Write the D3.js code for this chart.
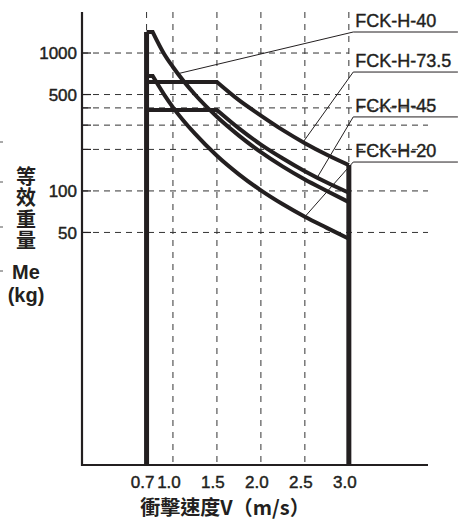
<!DOCTYPE html>
<html><head><meta charset="utf-8">
<script src="https://cdn.jsdelivr.net/npm/d3@7"></script>
<style>
html,body{margin:0;padding:0;background:#fff;}
svg{display:block;}
</style></head>
<body>
<script>
// ---- data ----
const xTicks = [0.7, 1.0, 1.5, 2.0, 2.5, 3.0];
const xTickLabels = ["0.7", "1.0", "1.5", "2.0", "2.5", "3.0"];
const yGrid = [1000, 500, 400, 300, 200, 100, 50];
const yGridShort = [1000, 500];
const yTickValues = [1000, 500, 100, 50];
const yTickLabels = ["1000", "500", "100", "50"];

const h40Speed  = [0.7, 0.77, 0.9, 1.0, 1.25, 1.5, 1.75, 2.0, 2.25, 2.5, 2.75, 3.0];
const h40Mass   = [1420, 1420, 985, 792, 500, 345, 252, 191, 150, 121, 100, 83];
const h735Speed = [0.7, 1.5, 1.75, 2.0, 2.25, 2.5, 2.75, 3.0];
const h735Mass  = [616, 616, 455, 352, 276, 222, 183, 154];
const h45Speed  = [0.7, 1.5, 1.75, 2.0, 2.25, 2.5, 2.75, 3.0];
const h45Mass   = [386, 386, 284, 217, 172, 139, 115, 97];
const h20Speed  = [0.7, 0.77, 0.9, 1.0, 1.25, 1.5, 1.75, 2.0, 2.25, 2.5, 2.75, 3.0];
const h20Mass   = [681, 681, 500, 404, 260, 180, 132, 101, 80, 65, 54, 45];

const labelNames  = ["FCK-H-40", "FCK-H-73.5", "FCK-H-45", "FCK-H-20"];
const labelAttach = [1.06, 2.48, 2.64, 2.5];   // speed where leader touches curve
const labelLevel  = [1420, 728, 344, 162];     // value of horizontal leader

const xTitle = "衝擊速度V（m/s）";
const yTitle = "等效重量";
const yUnit = ["Me", "(kg)"];

// ---- layout ----
const W = 467, H = 521;
const ink = "#231f20";
const svg = d3.select("body").append("svg").attr("width", W).attr("height", H);

const x = d3.scaleLinear().domain([0, 3.9]).range([85, 428]);
const y = d3.scaleLog().domain([1.03, 2000]).range([465, 11.5]);
const axisX0 = 82, yTop = 12, yBot = 465;

// horizontal dashed gridlines
svg.append("g").selectAll("line").data(yGrid).join("line")
  .attr("x1", axisX0).attr("x2", d => yGridShort.includes(d) ? x(3.0) : x(3.9))
  .attr("y1", d => y(d)).attr("y2", d => y(d))
  .attr("stroke", "#333").attr("stroke-width", 1).attr("stroke-dasharray", "6,5");

// vertical dashed gridlines
svg.append("g").selectAll("line").data(xTicks).join("line")
  .attr("x1", d => x(d)).attr("x2", d => x(d))
  .attr("y1", yTop).attr("y2", yBot)
  .attr("stroke", "#333").attr("stroke-width", 1).attr("stroke-dasharray", "6,6");

// axes lines
svg.append("line").attr("x1", axisX0).attr("x2", axisX0).attr("y1", yTop).attr("y2", yBot + 1)
  .attr("stroke", ink).attr("stroke-width", 2.2);
svg.append("line").attr("x1", axisX0 - 1).attr("x2", x(3.9)).attr("y1", yBot).attr("y2", yBot)
  .attr("stroke", ink).attr("stroke-width", 2.2);

// y ticks (inward) and labels
svg.append("g").selectAll("line").data(yGrid).join("line")
  .attr("x1", axisX0).attr("x2", axisX0 + 9)
  .attr("y1", d => y(d)).attr("y2", d => y(d))
  .attr("stroke", ink).attr("stroke-width", 1.2);
const narrowFont = "'Liberation Sans Narrow','Liberation Sans',Arial,sans-serif";
svg.append("g").selectAll("text").data(yTickValues).join("text")
  .attr("x", 77).attr("y", d => y(d)).attr("dy", "0.36em")
  .attr("text-anchor", "end")
  .attr("font-family", narrowFont)
  .attr("font-size", 17).attr("fill", ink).attr("stroke", ink).attr("stroke-width", 0.45)
  .text((d, i) => yTickLabels[i]);

// x tick labels
svg.append("g").selectAll("text").data(xTicks).join("text")
  .attr("x", d => x(d) - 4).attr("y", 488)
  .attr("text-anchor", "middle")
  .attr("font-family", narrowFont)
  .attr("font-size", 17).attr("fill", ink).attr("stroke", ink).attr("stroke-width", 0.45)
  .text((d, i) => xTickLabels[i]);

// thick boundary verticals
svg.append("line").attr("x1", x(0.7)).attr("x2", x(0.7))
  .attr("y1", y(h40Mass[0])).attr("y2", yBot)
  .attr("stroke", ink).attr("stroke-width", 5);
svg.append("line").attr("x1", x(3.0)).attr("x2", x(3.0))
  .attr("y1", y(h735Mass[h735Mass.length - 1])).attr("y2", yBot)
  .attr("stroke", ink).attr("stroke-width", 5);

// curves: flat portion linear, then monotone decline
const lineGen = d3.line().x(d => x(d[0])).y(d => y(d[1])).curve(d3.curveMonotoneX);
function seriesPath(sp, ms) {
  const pts = sp.map((s, i) => [s, ms[i]]);
  let k = 0;
  while (k + 1 < pts.length && pts[k + 1][1] === pts[0][1]) k++;
  const decl = pts.slice(k);
  return `M${x(pts[0][0])},${y(pts[0][1])}L` + lineGen(decl).slice(1);
}
const allSeries = [[h40Speed, h40Mass], [h735Speed, h735Mass], [h45Speed, h45Mass], [h20Speed, h20Mass]];
svg.append("g").selectAll("path").data(allSeries).join("path")
  .attr("d", d => seriesPath(d[0], d[1]))
  .attr("fill", "none").attr("stroke", ink).attr("stroke-width", 4)
  .attr("stroke-linejoin", "miter");

// leaders and labels
function interp(sp, ms, s) {
  for (let i = 0; i < sp.length - 1; i++) {
    if (s >= sp[i] && s <= sp[i + 1]) {
      const t = (s - sp[i]) / (sp[i + 1] - sp[i]);
      return Math.exp(Math.log(ms[i]) + t * (Math.log(ms[i + 1]) - Math.log(ms[i])));
    }
  }
  return ms[ms.length - 1];
}
const lg = svg.append("g");
labelNames.forEach((name, i) => {
  const [sp, ms] = allSeries[i];
  const s0 = labelAttach[i];
  const v0 = interp(sp, ms, s0);
  const xa = x(s0), ya = y(v0);
  const xb = x(3.05), yb = y(labelLevel[i]);
  lg.append("path")
    .attr("d", `M${xa},${ya}L${xb},${yb}L${x(4.24)},${yb}`)
    .attr("fill", "none").attr("stroke", ink).attr("stroke-width", 1);
  lg.append("text").attr("x", x(3.05) + 2).attr("y", yb - 5)
    .attr("font-family", "'Liberation Sans',Arial,sans-serif")
    .attr("font-size", 18).attr("fill", ink).attr("stroke", ink).attr("stroke-width", 0.4)
    .text(name);
});

// axis titles
svg.append("text").attr("x", 225).attr("y", 515).attr("text-anchor", "middle")
  .attr("font-family", "'Noto Sans CJK TC','Noto Sans CJK SC',sans-serif")
  .attr("font-weight", "bold").attr("font-size", 20).attr("fill", ink)
  .text(xTitle);
svg.append("text")
  .attr("x", 26).attr("y", 166)
  .attr("writing-mode", "vertical-rl")
  .style("writing-mode", "vertical-rl")
  .attr("letter-spacing", 1.5)
  .attr("font-family", "'Noto Sans CJK TC','Noto Sans CJK SC',sans-serif")
  .attr("font-weight", "bold").attr("font-size", 20).attr("fill", ink)
  .text(yTitle);
const yu = svg.append("text")
  .attr("font-family", "'Liberation Sans',Arial,sans-serif")
  .attr("font-weight", "bold").attr("font-size", 20).attr("fill", ink)
  .attr("text-anchor", "middle");
yu.selectAll("tspan").data(yUnit).join("tspan")
  .attr("x", 26).attr("y", (d, i) => 279 + i * 23)
  .text(d => d);

// small edge marks from neighbouring figure
svg.append("g").selectAll("line").data([142, 182, 227, 271]).join("line")
  .attr("x1", 0).attr("x2", 3).attr("y1", d => d).attr("y2", d => d)
  .attr("stroke", "#555").attr("stroke-width", 1);
</script>
</body></html>
